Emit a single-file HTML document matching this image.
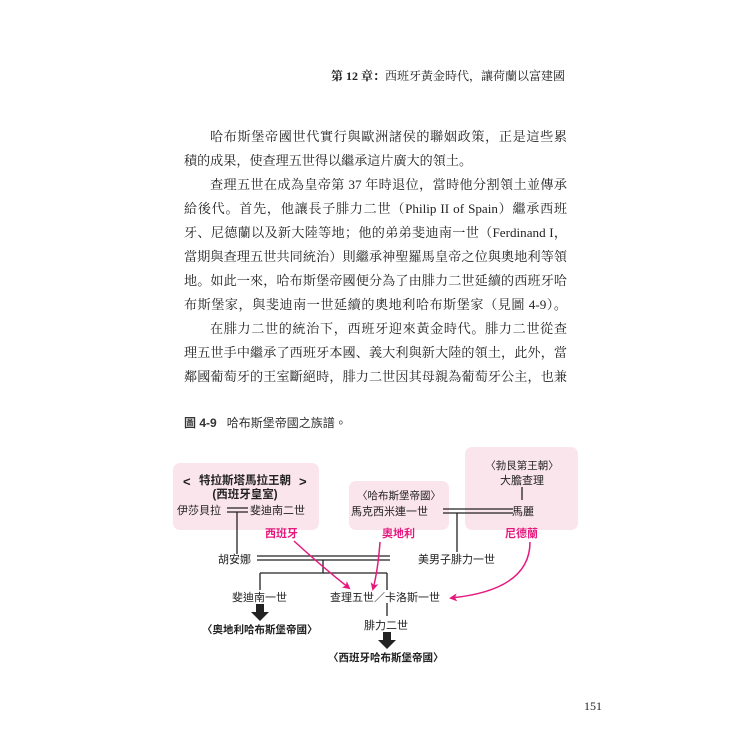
<!DOCTYPE html>
<html><head><meta charset="utf-8"><style>
body{margin:0;background:#fff;}
.pg{position:relative;width:750px;height:750px;overflow:hidden;font-family:"Liberation Serif","Noto Serif CJK SC","Noto Sans CJK TC",serif;color:#222;}
.ln{position:absolute;left:184px;width:383px;font-size:13.1px;line-height:16px;text-align:justify;text-align-last:justify;white-space:nowrap;overflow:visible;}
.in{left:210px;width:357px;}
</style></head><body><div class="pg">
<div style="position:absolute;right:185px;top:67px;font-size:12px;white-space:nowrap;"><b>第 12 章：</b>西班牙黃金時代，讓荷蘭以富建國</div>
<div class="ln in" style="top:129px">哈布斯堡帝國世代實行與歐洲諸侯的聯姻政策，正是這些累</div>
<div class="ln" style="top:153px;text-align-last:left">積的成果，使查理五世得以繼承這片廣大的領土。</div>
<div class="ln in" style="top:177px">查理五世在成為皇帝第 37 年時退位，當時他分割領土並傳承</div>
<div class="ln" style="top:201px">給後代。首先，他讓長子腓力二世（Philip II of Spain）繼承西班</div>
<div class="ln" style="top:225px">牙、尼德蘭以及新大陸等地；他的弟弟斐迪南一世（Ferdinand I，</div>
<div class="ln" style="top:249px">當期與查理五世共同統治）則繼承神聖羅馬皇帝之位與奧地利等領</div>
<div class="ln" style="top:273px">地。如此一來，哈布斯堡帝國便分為了由腓力二世延續的西班牙哈</div>
<div class="ln" style="top:297px">布斯堡家，與斐迪南一世延續的奧地利哈布斯堡家（見圖 4-9）。</div>
<div class="ln in" style="top:321px">在腓力二世的統治下，西班牙迎來黃金時代。腓力二世從查</div>
<div class="ln" style="top:345px">理五世手中繼承了西班牙本國、義大利與新大陸的領土，此外，當</div>
<div class="ln" style="top:369px">鄰國葡萄牙的王室斷絕時，腓力二世因其母親為葡萄牙公主，也兼</div>
<div style="position:absolute;left:184px;top:414px;font-size:12px;font-family:'Liberation Sans','Noto Sans CJK TC',sans-serif;color:#333;white-space:nowrap;"><b>圖 4-9</b>&nbsp;&nbsp;&nbsp;哈布斯堡帝國之族譜。</div>
<div style="position:absolute;left:584px;top:699px;font-size:12px;">151</div>
<svg style="position:absolute;left:0;top:0" width="750" height="750" font-family="Liberation Sans, Noto Sans CJK TC, sans-serif" font-size="11" fill="#222">
<defs><marker id="pa" markerWidth="8" markerHeight="8" refX="6" refY="4" orient="auto" markerUnits="userSpaceOnUse"><path d="M0,0 L8,4 L0,8 L2,4z" fill="#e5197d"/></marker></defs>
<rect x="173" y="463" width="146" height="67" rx="7" fill="#fbe5ec"/>
<rect x="349" y="481" width="100" height="49" rx="7" fill="#fbe5ec"/>
<rect x="465" y="447" width="113" height="83" rx="7" fill="#fbe5ec"/>
<text x="245" y="484" text-anchor="middle" font-weight="bold" font-size="11.5">特拉斯塔馬拉王朝</text>
<text x="183" y="486" font-size="13" font-weight="bold">&lt;</text><text x="299" y="486" font-size="13" font-weight="bold">&gt;</text>
<text x="245" y="498" text-anchor="middle" font-weight="bold" font-size="11.5">(西班牙皇室)</text>
<text x="177" y="514">伊莎貝拉</text><text x="250" y="514">斐迪南二世</text>
<text x="399" y="499" text-anchor="middle" font-size="10.5">〈哈布斯堡帝國〉</text>
<text x="351" y="515">馬克西米連一世</text>
<text x="522" y="469" text-anchor="middle" font-size="10.5">〈勃艮第王朝〉</text>
<text x="522" y="484" text-anchor="middle">大膽查理</text>
<text x="523" y="515" text-anchor="middle">馬麗</text>
<g fill="#e5197d" font-weight="bold"><text x="265" y="537">西班牙</text><text x="382" y="537">奧地利</text><text x="505" y="537">尼德蘭</text></g>
<g stroke="#222" stroke-width="1.3" fill="none">
<path d="M227 508H248M227 512H248"/>
<path d="M237 512V554"/>
<path d="M443 509H513M443 513H513"/>
<path d="M457 513V552"/>
<path d="M522 487V500"/>
<path d="M257 556H390M257 560H390"/>
<path d="M323 560V573M260 573H387M260 573V590M387 573V590"/>
<path d="M387 603V616"/>
</g>
<text x="218" y="563">胡安娜</text>
<text x="418" y="563">美男子腓力一世</text>
<text x="232" y="601">斐迪南一世</text>
<text x="330" y="601">查理五世／卡洛斯一世</text>
<text x="364" y="629">腓力二世</text>
<g font-weight="bold"><text x="202" y="633" font-size="10.5">〈奧地利哈布斯堡帝國〉</text><text x="328" y="661" font-size="10.5">〈西班牙哈布斯堡帝國〉</text></g>
<path d="M256 604h8v8h5l-9 9l-9-9h5z" fill="#222"/>
<path d="M383 632h8v8h5l-9 9l-9-9h5z" fill="#222"/>
<g stroke="#e5197d" stroke-width="1.5" fill="none">
<path d="M294 541 Q320 565 349 588" marker-end="url(#pa)"/>
<path d="M380 542 Q378 570 373 589" marker-end="url(#pa)"/>
<path d="M530 542 Q530 590 451 598" marker-end="url(#pa)"/>
</g>
</svg>
</div></body></html>
